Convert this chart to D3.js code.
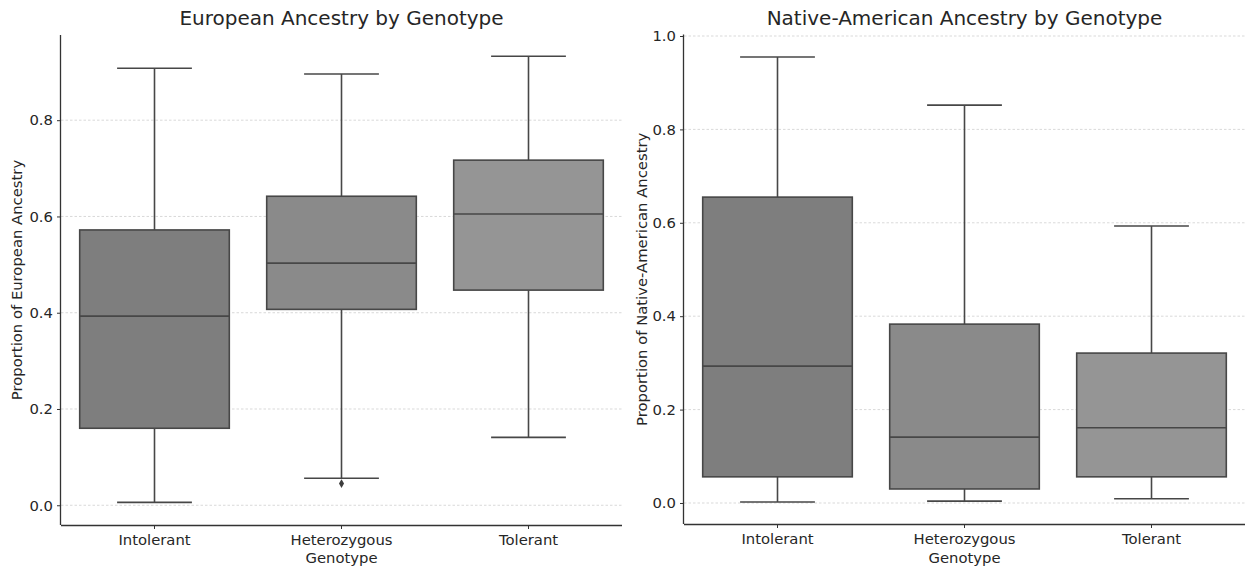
<!DOCTYPE html>
<html>
<head>
<meta charset="utf-8">
<script src="https://cdn.jsdelivr.net/npm/d3@7"></script>
<style>
  body { margin: 0; background: #fff; }
  svg text { font-family: "DejaVu Sans", sans-serif; fill: #262626; }
</style>
</head>
<body>
<div id="chart"></div>
<script>
// genotype groups
const genotypes = ["Intolerant", "Heterozygous", "Tolerant"];
const boxFills = ["#7e7e7e", "#8a8a8a", "#959595"];

// box stats: [whiskerLow, q1, median, q3, whiskerHigh]
const europeanStats = [
  [0.006, 0.160, 0.393, 0.572, 0.908],
  [0.056, 0.407, 0.503, 0.642, 0.896],
  [0.141, 0.447, 0.605, 0.717, 0.933]
];
const europeanOutliers = [[], [0.045], []];
const europeanTicks = [0, 0.2, 0.4, 0.6, 0.8];

const nativeStats = [
  [0.002, 0.056, 0.293, 0.655, 0.955],
  [0.004, 0.030, 0.141, 0.383, 0.852],
  [0.009, 0.056, 0.161, 0.321, 0.593]
];
const nativeOutliers = [[], [], []];
const nativeTicks = [0, 0.2, 0.4, 0.6, 0.8, 1.0];

const width = 1247, height = 570;
const svg = d3.select("#chart").append("svg")
  .attr("width", width)
  .attr("height", height);

function drawPanel(opts) {
  const { left, right, top, bottom, domain, stats, outliers, ticks, title, ylabel, ylabelX } = opts;

  const x = d3.scaleBand().domain(genotypes).range([left, right]).padding(0);
  const y = d3.scaleLinear().domain(domain).range([bottom, top]);
  const g = svg.append("g");

  // dashed grid
  g.selectAll(".grid").data(ticks).enter().append("line")
    .attr("x1", left).attr("x2", right)
    .attr("y1", d => y(d)).attr("y2", d => y(d))
    .attr("stroke", "#cfcfcf")
    .attr("stroke-width", 0.8)
    .attr("stroke-dasharray", "2.5,2");

  const boxW = x.bandwidth() * 0.8;
  const capW = boxW * 0.5;
  const lineColor = "#474747";

  genotypes.forEach((gt, i) => {
    const [lo, q1, med, q3, hi] = stats[i];
    const cx = x(gt) + x.bandwidth() / 2;
    const bg = g.append("g");

    // whiskers
    bg.append("line").attr("x1", cx).attr("x2", cx)
      .attr("y1", y(q3)).attr("y2", y(hi))
      .attr("stroke", lineColor).attr("stroke-width", 1.6);
    bg.append("line").attr("x1", cx).attr("x2", cx)
      .attr("y1", y(q1)).attr("y2", y(lo))
      .attr("stroke", lineColor).attr("stroke-width", 1.6);
    // caps
    [lo, hi].forEach(v => {
      bg.append("line").attr("x1", cx - capW / 2).attr("x2", cx + capW / 2)
        .attr("y1", y(v)).attr("y2", y(v))
        .attr("stroke", lineColor).attr("stroke-width", 1.6);
    });
    // box
    bg.append("rect")
      .attr("x", cx - boxW / 2).attr("width", boxW)
      .attr("y", y(q3)).attr("height", y(q1) - y(q3))
      .attr("fill", boxFills[i])
      .attr("stroke", lineColor).attr("stroke-width", 1.6);
    // median
    bg.append("line").attr("x1", cx - boxW / 2).attr("x2", cx + boxW / 2)
      .attr("y1", y(med)).attr("y2", y(med))
      .attr("stroke", lineColor).attr("stroke-width", 1.6);
    // outliers as small diamonds
    bg.selectAll(".out").data(outliers[i]).enter().append("path")
      .attr("d", d3.symbol().type(d3.symbolDiamond).size(22))
      .attr("transform", d => `translate(${cx},${y(d)})`)
      .attr("fill", "#3d3d3d");
  });

  // axes
  const yAxis = d3.axisLeft(y).tickValues(ticks).tickFormat(d3.format(".1f")).tickSize(4).tickPadding(4);
  const ya = g.append("g").attr("transform", `translate(${left},0)`).call(yAxis);
  ya.select(".domain").attr("d", `M-0.5,${top}V${bottom}`);

  const xAxis = d3.axisBottom(x).tickSize(4).tickPadding(5);
  const xa = g.append("g").attr("transform", `translate(0,${bottom})`).call(xAxis);
  xa.select(".domain").attr("d", `M${left},0.5H${right}`);

  [ya, xa].forEach(a => {
    a.selectAll(".domain").attr("stroke", "#333").attr("stroke-width", 1.3);
    a.selectAll(".tick line").attr("stroke", "#333").attr("stroke-width", 1);
    a.selectAll(".tick text").style("font-size", "14.8px").attr("fill", "#262626");
  });

  g.append("text")
    .attr("x", (left + right) / 2).attr("y", 25)
    .attr("text-anchor", "middle")
    .style("font-size", "20px")
    .text(title);

  g.append("text")
    .attr("x", (left + right) / 2).attr("y", 563)
    .attr("text-anchor", "middle")
    .style("font-size", "14.8px")
    .text("Genotype");

  g.append("text")
    .attr("transform", `translate(${ylabelX},${(top + bottom) / 2}) rotate(-90)`)
    .attr("text-anchor", "middle")
    .style("font-size", "14.8px")
    .text(ylabel);
}

drawPanel({
  left: 61, right: 622, top: 35, bottom: 525,
  domain: [-0.041, 0.977],
  stats: europeanStats, outliers: europeanOutliers, ticks: europeanTicks,
  title: "European Ancestry by Genotype",
  ylabel: "Proportion of European Ancestry",
  ylabelX: 22
});

drawPanel({
  left: 684, right: 1245, top: 34.6, bottom: 524,
  domain: [-0.045, 1.003],
  stats: nativeStats, outliers: nativeOutliers, ticks: nativeTicks,
  title: "Native-American Ancestry by Genotype",
  ylabel: "Proportion of Native-American Ancestry",
  ylabelX: 647
});
</script>
</body>
</html>
